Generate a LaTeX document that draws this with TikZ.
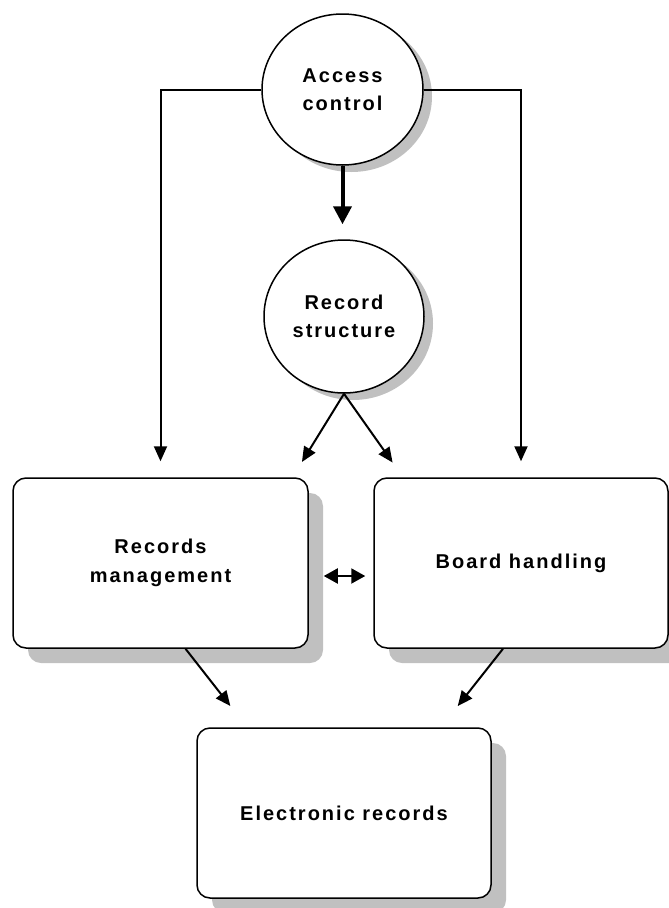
\documentclass[tikz,border=0pt]{standalone}
\usepackage{fontspec}
\setmainfont{Liberation Sans}
\newfontfamily\labelfont[LetterSpace=10]{Liberation Sans}
\usepackage{tikz}
\usetikzlibrary{shapes.geometric}
\usetikzlibrary{arrows.meta}
\usetikzlibrary{shadows}
\definecolor{shadowgray}{HTML}{C0C0C0}
\tikzset{
    circnode/.style={draw=black, ellipse, fill=white, line width=1.5pt, inner sep=0pt,
        align=center, font=\labelfont\bfseries\fontsize{20}{28}\selectfont,
        drop shadow={shadow xshift=9pt, shadow yshift=-7pt, fill=shadowgray, opacity=1}},
    boxnode/.style={draw=black, rectangle, rounded corners=13pt, fill=white, line width=1.5pt,
        minimum width=294pt, minimum height=170pt, inner sep=0pt,
        align=center, font=\labelfont\bfseries\fontsize{20}{29}\selectfont,
        drop shadow={shadow xshift=15pt, shadow yshift=-15pt, fill=shadowgray, opacity=1}},
    conn/.style={draw=black, line width=2pt, -{Triangle[length=15pt,width=13pt]}},
    thickconn/.style={draw=black, line width=4pt, -{Triangle[length=18pt,width=18pt]}},
}

\begin{document}
\begin{tikzpicture}[x=1pt, y=-1pt]
	\useasboundingbox (0,0) rectangle (669,908);
	% circles
	\node[circnode, minimum width=161pt, minimum height=151pt] (ac) at (342.5,89.5) {Access\\control};
	\node[circnode, minimum width=160pt, minimum height=153pt] (rs) at (344,316.5) {Record\\structure};
	% boxes
	\node[boxnode, minimum width=295pt] (rm) at (160.5,563) {Records\\management};
	\node[boxnode] (bh) at (521,563) {Board handling};
	\node[boxnode] (er) at (344,813) {Electronic records};
	% connectors
	\draw[conn, shorten >=16pt] (ac.west) -| (rm.north);
	\draw[conn, shorten >=16pt] (ac.east) -| (bh.north);
	\draw[thickconn, shorten >=15pt] (ac.south) -- (ac.south |- rs.north);
	\draw[conn, shorten >=18pt] (rs.south) -- ([xshift=132pt]rm.north);
	\draw[conn, shorten >=18pt] (rs.south) -- ([xshift=-118pt]bh.north);
	\draw[draw=black, line width=2pt, {Triangle[length=14pt,width=15pt]}-{Triangle[length=14pt,width=15pt]},
		shorten <=15pt, shorten >=8pt] ([yshift=-13pt]rm.east) -- ([yshift=-13pt]bh.west);
	\draw[conn, shorten >=27pt] ([xshift=25pt]rm.south) -- ([xshift=-97pt]er.north);
	\draw[conn, shorten >=27pt] ([xshift=-18pt]bh.south) -- ([xshift=97pt]er.north);
\end{tikzpicture}
\end{document}
